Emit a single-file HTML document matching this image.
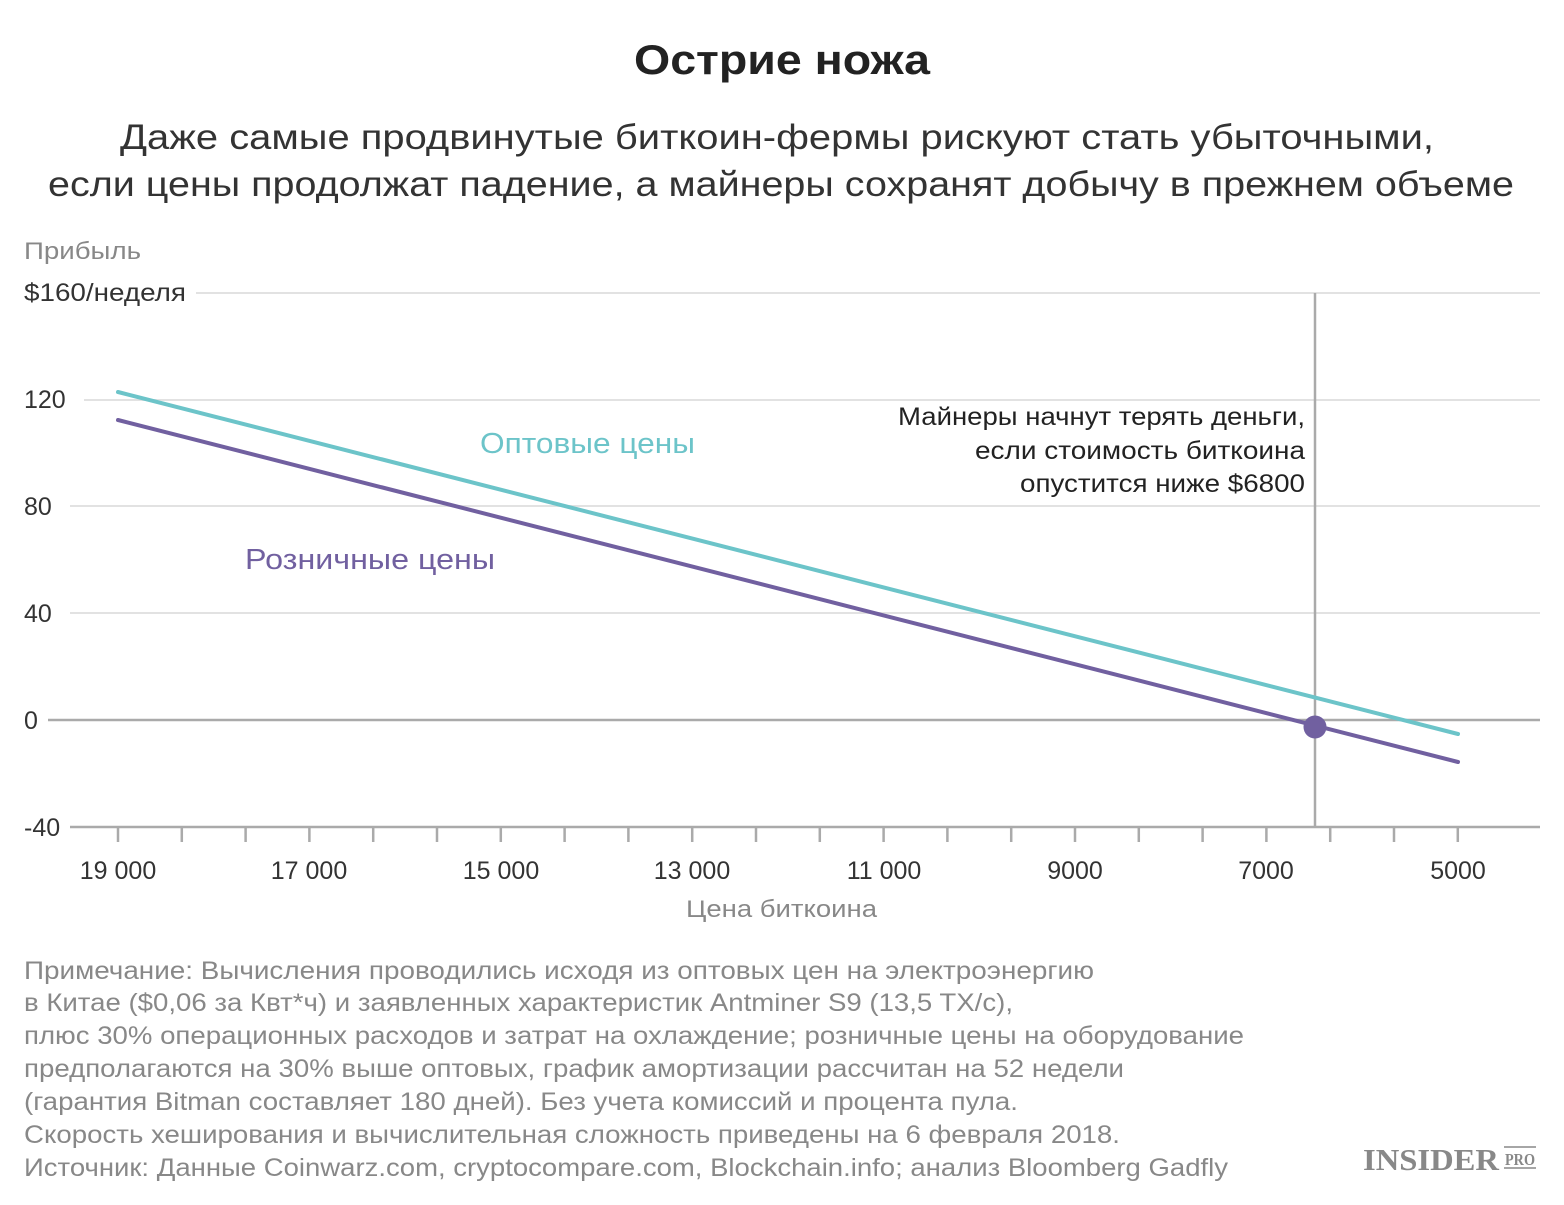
<!DOCTYPE html>
<html><head><meta charset="utf-8"><style>
body{margin:0;background:#fff;width:1564px;height:1200px;overflow:hidden;font-family:"Liberation Sans",sans-serif;}
</style></head><body>
<svg width="1564" height="1200" xmlns="http://www.w3.org/2000/svg" font-family="Liberation Sans, sans-serif">
<text x="634" y="74" textLength="296" lengthAdjust="spacingAndGlyphs" font-size="42" font-weight="bold" fill="#222">Острие ножа</text>
<text x="120" y="149" textLength="1314" lengthAdjust="spacingAndGlyphs" font-size="35" fill="#333">Даже самые продвинутые биткоин-фермы рискуют стать убыточными,</text>
<text x="48" y="196" textLength="1466" lengthAdjust="spacingAndGlyphs" font-size="35" fill="#333">если цены продолжат падение, а майнеры сохранят добычу в прежнем объеме</text>
<text x="24" y="259" textLength="117" lengthAdjust="spacingAndGlyphs" font-size="24" fill="#888">Прибыль</text>
<g stroke="#e2e2e2" stroke-width="2">
<line x1="196" y1="293" x2="1540" y2="293"/>
<line x1="84" y1="400" x2="1540" y2="400"/>
<line x1="70" y1="506" x2="1540" y2="506"/>
<line x1="70" y1="613" x2="1540" y2="613"/>
</g>
<line x1="48" y1="720" x2="1540" y2="720" stroke="#aaa" stroke-width="2.5"/>
<line x1="70" y1="827" x2="1540" y2="827" stroke="#aaa" stroke-width="2.5"/>
<line x1="1315" y1="293" x2="1315" y2="827" stroke="#aaa" stroke-width="2.5"/>
<g font-size="25" fill="#333">
<text x="24" y="301" textLength="162" lengthAdjust="spacingAndGlyphs">$160/неделя</text>
<text x="24" y="408">120</text>
<text x="24" y="515">80</text>
<text x="24" y="622">40</text>
<text x="24" y="729">0</text>
<text x="24" y="836">-40</text>
</g>
<g font-size="25" fill="#333" text-anchor="middle">
<text x="118" y="879">19 000</text>
<text x="309" y="879">17 000</text>
<text x="501" y="879">15 000</text>
<text x="692" y="879">13 000</text>
<text x="884" y="879">11 000</text>
<text x="1075" y="879">9000</text>
<text x="1266" y="879">7000</text>
<text x="1458" y="879">5000</text>
</g>
<text x="686" y="917" textLength="191" lengthAdjust="spacingAndGlyphs" font-size="24" fill="#888">Цена биткоина</text>
<line x1="118" y1="392" x2="1458" y2="734" stroke="#6cc4c9" stroke-width="4" stroke-linecap="round"/>
<line x1="118" y1="420" x2="1458" y2="762" stroke="#7160a0" stroke-width="4" stroke-linecap="round"/>
<circle cx="1315" cy="727" r="11.5" fill="#7160a0"/>
<text x="480" y="453" textLength="215" lengthAdjust="spacingAndGlyphs" font-size="29" fill="#6cc4c9">Оптовые цены</text>
<text x="245" y="569" textLength="250" lengthAdjust="spacingAndGlyphs" font-size="29" fill="#7160a0">Розничные цены</text>
<g font-size="25" fill="#222">
<text x="898" y="425" textLength="407" lengthAdjust="spacingAndGlyphs">Майнеры начнут терять деньги,</text>
<text x="975" y="459" textLength="330" lengthAdjust="spacingAndGlyphs">если стоимость биткоина</text>
<text x="1020" y="492" textLength="285" lengthAdjust="spacingAndGlyphs">опустится ниже $6800</text>
</g>
<g font-size="25" fill="#888" lengthAdjust="spacingAndGlyphs">
<text x="24" y="979" textLength="1070" lengthAdjust="spacingAndGlyphs">Примечание: Вычисления проводились исходя из оптовых цен на электроэнергию</text>
<text x="24" y="1011" textLength="989" lengthAdjust="spacingAndGlyphs">в Китае ($0,06 за Квт*ч) и заявленных характеристик Antminer S9 (13,5 TХ/с),</text>
<text x="24" y="1044" textLength="1220" lengthAdjust="spacingAndGlyphs">плюс 30% операционных расходов и затрат на охлаждение; розничные цены на оборудование</text>
<text x="24" y="1077" textLength="1100" lengthAdjust="spacingAndGlyphs">предполагаются на 30% выше оптовых, график амортизации рассчитан на 52 недели</text>
<text x="24" y="1110" textLength="994" lengthAdjust="spacingAndGlyphs">(гарантия Bitman составляет 180 дней). Без учета комиссий и процента пула.</text>
<text x="24" y="1143" textLength="1096" lengthAdjust="spacingAndGlyphs">Скорость хеширования и вычислительная сложность приведены на 6 февраля 2018.</text>
<text x="24" y="1176" textLength="1204" lengthAdjust="spacingAndGlyphs">Источник: Данные Coinwarz.com, cryptocompare.com, Blockchain.info; анализ Bloomberg Gadfly</text>
</g>
<text x="1363" y="1170" textLength="136" lengthAdjust="spacingAndGlyphs" font-family="Liberation Serif, serif" font-size="31" font-weight="bold" fill="#888">INSIDER</text>
<text x="1505" y="1165" textLength="30" lengthAdjust="spacingAndGlyphs" font-family="Liberation Serif, serif" font-size="17" font-weight="bold" fill="#888">PRO</text>
<line x1="1504" y1="1147" x2="1536" y2="1147" stroke="#888" stroke-width="1.5"/>
<line x1="1504" y1="1168" x2="1536" y2="1168" stroke="#888" stroke-width="1.5"/>
<g stroke="#aaa" stroke-width="2.5">
<line x1="118" y1="827" x2="118" y2="842"/><line x1="181.8" y1="827" x2="181.8" y2="842"/><line x1="245.6" y1="827" x2="245.6" y2="842"/><line x1="309.4" y1="827" x2="309.4" y2="842"/><line x1="373.2" y1="827" x2="373.2" y2="842"/><line x1="437" y1="827" x2="437" y2="842"/><line x1="500.8" y1="827" x2="500.8" y2="842"/><line x1="564.6" y1="827" x2="564.6" y2="842"/><line x1="628.4" y1="827" x2="628.4" y2="842"/><line x1="692.2" y1="827" x2="692.2" y2="842"/><line x1="756" y1="827" x2="756" y2="842"/><line x1="819.8" y1="827" x2="819.8" y2="842"/><line x1="883.6" y1="827" x2="883.6" y2="842"/><line x1="947.4" y1="827" x2="947.4" y2="842"/><line x1="1011.2" y1="827" x2="1011.2" y2="842"/><line x1="1075" y1="827" x2="1075" y2="842"/><line x1="1138.8" y1="827" x2="1138.8" y2="842"/><line x1="1202.6" y1="827" x2="1202.6" y2="842"/><line x1="1266.4" y1="827" x2="1266.4" y2="842"/><line x1="1330.2" y1="827" x2="1330.2" y2="842"/><line x1="1394" y1="827" x2="1394" y2="842"/><line x1="1457.8" y1="827" x2="1457.8" y2="842"/>
</g>
</svg>
</body></html>
